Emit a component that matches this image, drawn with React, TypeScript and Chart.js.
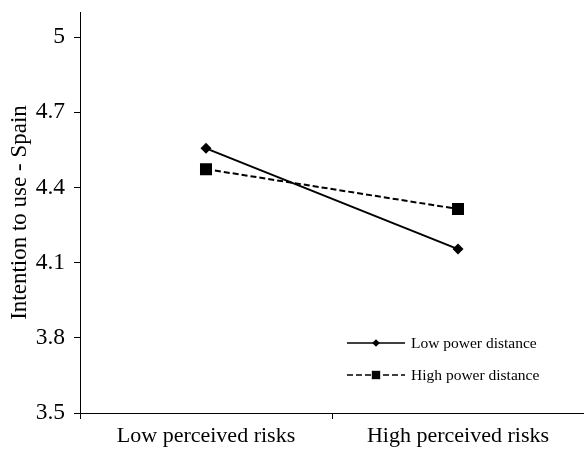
import React, { useEffect, useRef } from 'react';
import { Chart, registerables } from 'chart.js';

Chart.register(...registerables);

const categories = ['Low perceived risks', 'High perceived risks'];
const lowPowerDistance = [4.556, 4.154];
const highPowerDistance = [4.473, 4.314];
const yTicks = [3.5, 3.8, 4.1, 4.4, 4.7, 5];
const seriesNames = ['Low power distance', 'High power distance'];
const yTitle = 'Intention to use - Spain';

const FONT = "'Liberation Serif', 'Times New Roman', serif";

const insideLegend = {
  id: 'insideLegend',
  afterDraw(chart: any) {
    const { ctx, chartArea } = chart;
    const x0 = chartArea.right - 237;
    const x1 = chartArea.right - 179;
    const xm = (x0 + x1) / 2;
    const rows = [chartArea.bottom - 70, chartArea.bottom - 38];
    chart.data.datasets.forEach((ds: any, i: number) => {
      const y = rows[i];
      ctx.save();
      ctx.strokeStyle = '#000';
      ctx.lineWidth = 1.5;
      ctx.setLineDash(ds.borderDash || []);
      ctx.beginPath();
      ctx.moveTo(x0, y);
      ctx.lineTo(x1, y);
      ctx.stroke();
      ctx.setLineDash([]);
      ctx.fillStyle = '#000';
      ctx.beginPath();
      if (ds.pointStyle === 'rectRot') {
        const r = 3.8;
        ctx.moveTo(xm - r, y);
        ctx.lineTo(xm, y - r);
        ctx.lineTo(xm + r, y);
        ctx.lineTo(xm, y + r);
        ctx.closePath();
      } else {
        const s = 4.2;
        ctx.rect(xm - s, y - s, 2 * s, 2 * s);
      }
      ctx.fill();
      ctx.font = `15.5px ${FONT}`;
      ctx.textAlign = 'left';
      ctx.textBaseline = 'middle';
      ctx.fillText(ds.label, x1 + 6, y + 1);
      ctx.restore();
    });
  },
};

export default function App() {
  const ref = useRef<HTMLCanvasElement | null>(null);

  useEffect(() => {
    document.body.style.margin = '0';
    if (!ref.current) return;
    const chart = new Chart(ref.current, {
      type: 'line',
      data: {
        labels: categories,
        datasets: [
          {
            label: seriesNames[0],
            data: lowPowerDistance,
            borderColor: '#000',
            backgroundColor: '#000',
            borderWidth: 2,
            pointStyle: 'rectRot',
            pointRadius: 5.5,
            pointBorderWidth: 0,
            pointBackgroundColor: '#000',
            fill: false,
            tension: 0,
          },
          {
            label: seriesNames[1],
            data: highPowerDistance,
            borderColor: '#000',
            backgroundColor: '#000',
            borderWidth: 2,
            borderDash: [6, 3],
            pointStyle: 'rect',
            pointRadius: 8.5,
            pointBorderWidth: 0,
            pointBackgroundColor: '#000',
            fill: false,
            tension: 0,
          },
        ],
      },
      options: {
        responsive: false,
        animation: false,
        layout: { autoPadding: false, padding: { top: 12, right: 0, left: 0, bottom: 0 } },
        plugins: {
          legend: { display: false },
          tooltip: { enabled: false },
        },
        scales: {
          x: {
            type: 'category',
            offset: true,
            grid: {
              display: true,
              offset: true,
              drawOnChartArea: false,
              drawTicks: true,
              tickLength: 6,
              color: '#000',
              lineWidth: 1,
            },
            border: { display: true, color: '#000', width: 1 },
            ticks: {
              color: '#000',
              padding: 4,
              font: { family: FONT, size: 22 },
              maxRotation: 0,
            },
            afterFit(scale: any) {
              scale.height = 39;
              scale.paddingLeft = 0;
              scale.paddingRight = 0;
            },
          },
          y: {
            type: 'linear',
            min: 3.5,
            max: 5.1,
            grid: {
              display: true,
              drawOnChartArea: false,
              drawTicks: true,
              tickLength: 6,
              color: '#000',
              lineWidth: 1,
            },
            border: { display: true, color: '#000', width: 1 },
            afterBuildTicks(scale: any) {
              scale.ticks = yTicks.map((v) => ({ value: v }));
            },
            ticks: {
              color: '#000',
              padding: 9,
              font: { family: FONT, size: 23.5 },
              callback: (v: any) => String(v),
            },
            title: {
              display: true,
              text: yTitle,
              color: '#000',
              font: { family: FONT, size: 23 },
              padding: { top: 6, bottom: 0 },
            },
            afterFit(scale: any) {
              scale.width = 80;
              scale.paddingTop = 0;
              scale.paddingBottom = 0;
            },
          },
        },
      },
      plugins: [insideLegend],
    });
    return () => chart.destroy();
  }, []);

  return (
    <div style={{ width: 584, height: 452 }}>
      <canvas ref={ref} width={584} height={452} style={{ display: 'block' }} />
    </div>
  );
}
